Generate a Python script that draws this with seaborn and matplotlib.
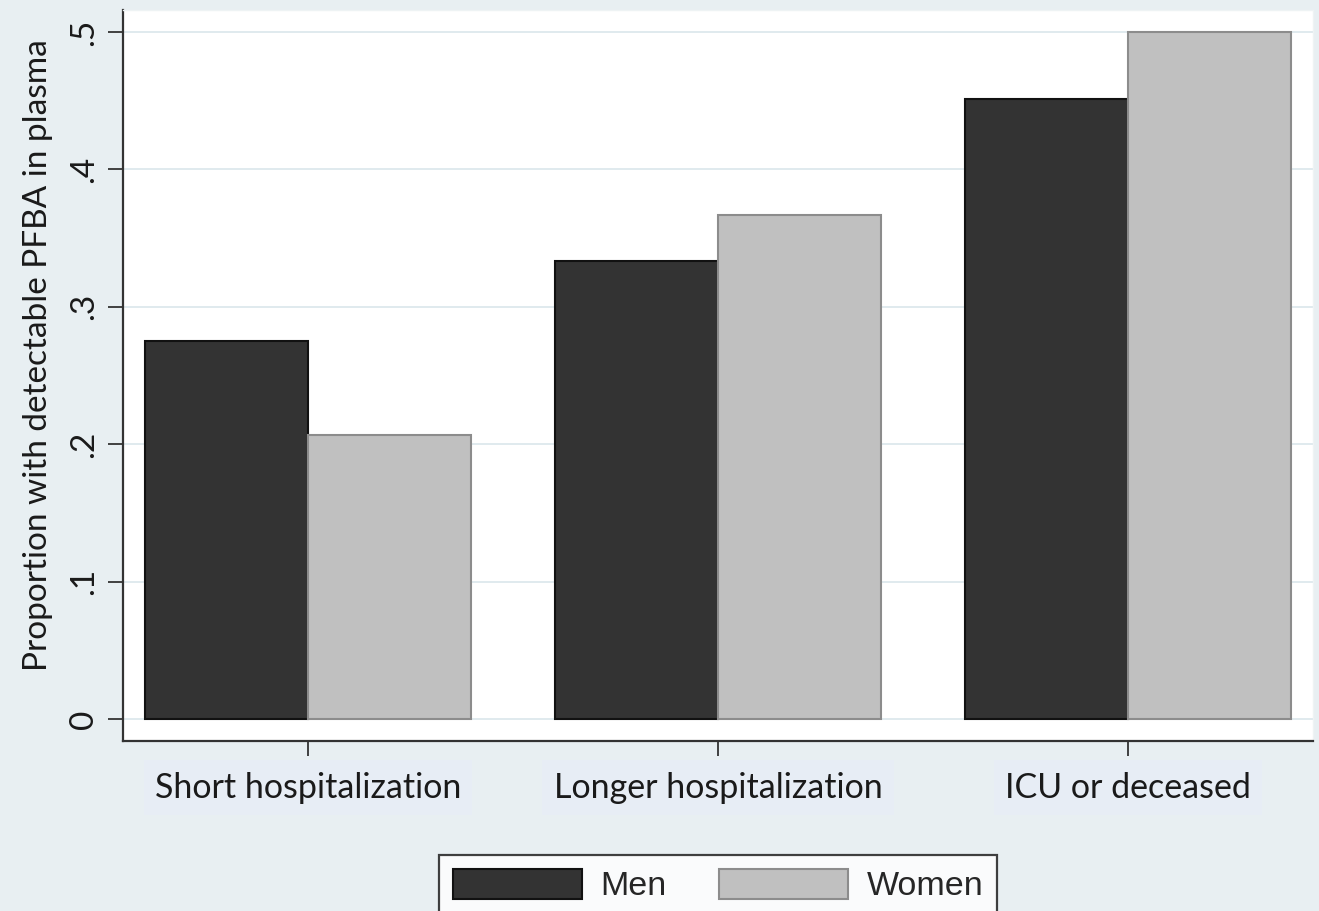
import matplotlib
matplotlib.use("Agg")
import matplotlib.pyplot as plt
import seaborn as sns
import pandas as pd
from matplotlib.patches import Patch

categories = ["Short hospitalization", "Longer hospitalization", "ICU or deceased"]
men = [0.275, 0.333, 0.451]
women = [0.207, 0.367, 0.500]
groups = ["Men", "Women"]
ytick_vals = [0, 0.1, 0.2, 0.3, 0.4, 0.5]
ytick_labels = ["0", ".1", ".2", ".3", ".4", ".5"]
ylabel = "Proportion with detectable PFBA in plasma"

colors = {"Men": "#333333", "Women": "#c0c0c0"}
edges = {"Men": "#111111", "Women": "#8c8c8c"}

df = pd.DataFrame({
    "category": categories * 2,
    "group": ["Men"] * 3 + ["Women"] * 3,
    "value": men + women,
})

sns.set_theme(style="white")
plt.rcParams["font.family"] = ["Lato", "DejaVu Sans"]

bg = "#e8eff2"
fig = plt.figure(figsize=(13.19, 9.11), dpi=100, facecolor=bg)
ax = fig.add_axes([0.0933, 0.1866, 0.9022, 0.8024])
ax.set_facecolor("white")

sns.barplot(data=df, x="category", y="value", hue="group", order=categories,
            hue_order=groups, palette=colors, width=0.795, gap=0,
            saturation=1, errorbar=None, legend=False, ax=ax, zorder=3)

for cont, g in zip(ax.containers, groups):
    for p in cont:
        p.set_edgecolor(edges[g])
        p.set_linewidth(1.5)

ax.set_xlim(-0.451, 2.451)
ax.set_ylim(-0.016, 0.516)
ax.set_yticks(ytick_vals)
ax.set_yticklabels(ytick_labels, rotation=90, va="center")
ax.yaxis.grid(True, color="#e0eaee", linewidth=1.4, zorder=0)
ax.set_axisbelow(True)

for s in ["left", "bottom"]:
    ax.spines[s].set_color("#333333")
    ax.spines[s].set_linewidth(1.6)
for s in ["top", "right"]:
    ax.spines[s].set_color("#eef3f4")
    ax.spines[s].set_linewidth(1.0)

ax.tick_params(axis="both", which="both", length=11, width=1.3, color="#333333",
               labelcolor="#1a1a1a", left=True, bottom=True)
ax.tick_params(axis="x", pad=11, labelsize=24.5)
ax.tick_params(axis="y", pad=6, labelsize=24)
for lbl in ax.get_xticklabels():
    lbl.set_bbox(dict(facecolor="#e7edf5", edgecolor="none", pad=8))

ax.set_xlabel("")
ax.set_ylabel(ylabel, fontsize=24, color="#1a1a1a")
ax.yaxis.set_label_coords(-0.0588, 0.528)

handles = [Patch(facecolor=colors[g], edgecolor=edges[g], linewidth=1.5, label=g) for g in groups]
leg = fig.legend(handles=handles, loc="upper center", bbox_to_anchor=(0.5444, 0.0615),
                 ncol=2, frameon=True, fancybox=False, borderaxespad=0,
                 prop={"family": ["Liberation Sans"], "size": 24.5},
                 handlelength=3.8, handleheight=1.0, handletextpad=0.53,
                 columnspacing=1.55, borderpad=0.4)
leg.get_frame().set_edgecolor("#111111")
leg.get_frame().set_linewidth(1.6)
leg.get_frame().set_facecolor("white")

fig.savefig("out.png", dpi=100, facecolor=bg)
